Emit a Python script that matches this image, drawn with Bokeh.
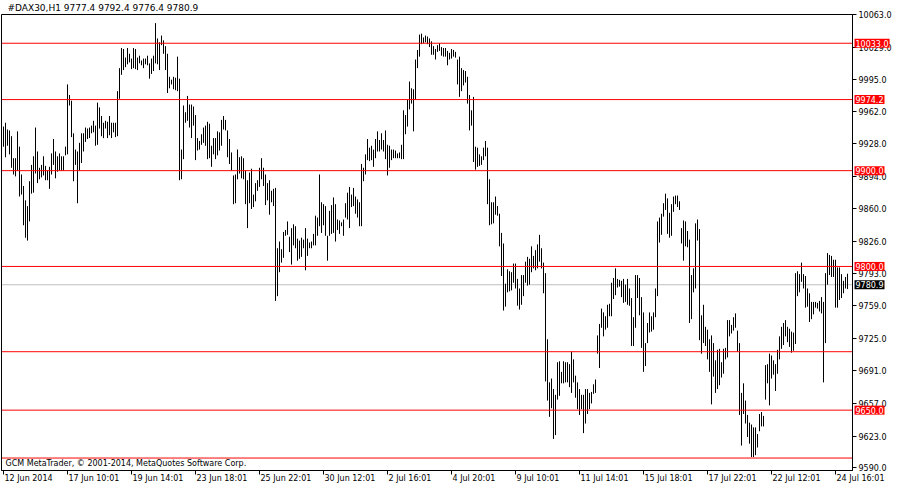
from bokeh.plotting import figure
from bokeh.models import (ColumnDataSource, Label, FixedTicker, PrintfTickFormatter,
                          Range1d, BoxAnnotation)
from bokeh.embed import file_html
from bokeh.resources import INLINE

# ---- data (hourly bars, high / low) ----
HIGH = [
    9946, 9950, 9943, 9942, 9936, 9913, 9913, 9941, 9925, 9896,
    9884, 9869, 9863, 9889, 9906, 9915, 9945, 9920, 9903, 9906,
    9915, 9905, 9900, 9904, 9918, 9933, 9920, 9915, 9918, 9915,
    9915, 9925, 9990, 9979, 9973, 9939, 9922, 9920, 9929, 9939,
    9939, 9945, 9944, 9945, 9947, 9952, 9947, 9971, 9966, 9957,
    9950, 9952, 9951, 9957, 9950, 9950, 9950, 9983, 10007, 10028,
    10027, 10018, 10028, 10022, 10017, 10028, 10027, 10018, 10020, 10015,
    10017, 10017, 10020, 10012, 10017, 10020, 10054, 10038, 10034, 10041,
    10036, 10030, 10022, 9998, 9995, 9998, 9997, 10019, 9996, 9922,
    9968, 9961, 9978, 9969, 9969, 9967, 9958, 9934, 9931, 9938,
    9945, 9947, 9951, 9949, 9926, 9934, 9934, 9941, 9940, 9953,
    9957, 9953, 9942, 9933, 9919, 9895, 9896, 9922, 9914, 9915,
    9913, 9900, 9890, 9898, 9902, 9875, 9887, 9890, 9903, 9913,
    9903, 9896, 9887, 9890, 9879, 9881, 9882, 9819, 9826, 9818,
    9836, 9838, 9847, 9831, 9840, 9844, 9842, 9829, 9827, 9830,
    9828, 9840, 9829, 9825, 9826, 9834, 9853, 9851, 9896, 9867,
    9865, 9863, 9832, 9858, 9864, 9872, 9865, 9849, 9848, 9846,
    9849, 9866, 9877, 9883, 9875, 9882, 9873, 9870, 9867, 9907,
    9903, 9917, 9933, 9924, 9926, 9922, 9933, 9941, 9932, 9939,
    9932, 9942, 9927, 9926, 9922, 9922, 9921, 9918, 9919, 9927,
    9963, 9958, 9974, 9993, 9986, 9985, 10016, 10026, 10042, 10043,
    10039, 10041, 10040, 10038, 10035, 10030, 10027, 10031, 10033, 10029,
    10028, 10028, 10025, 10023, 10027, 10026, 10024, 10016, 10019, 10007,
    10005, 10004, 9998, 9979, 9963, 9977, 9925, 9924, 9917, 9915,
    9924, 9931, 9924, 9891, 9867, 9867, 9873, 9863, 9855, 9835,
    9824, 9782, 9797, 9795, 9794, 9803, 9803, 9787, 9777, 9791,
    9791, 9805, 9810, 9808, 9821, 9811, 9817, 9823, 9833, 9819,
    9804, 9793, 9724, 9679, 9683, 9672, 9666, 9700, 9701, 9690,
    9701, 9700, 9700, 9698, 9711, 9703, 9686, 9679, 9672, 9666,
    9666, 9672, 9672, 9668, 9669, 9677, 9682, 9728, 9740, 9756,
    9752, 9748, 9760, 9761, 9783, 9788, 9798, 9787, 9786, 9785,
    9787, 9781, 9787, 9777, 9767, 9747, 9791, 9791, 9788, 9768,
    9752, 9720, 9741, 9752, 9748, 9752, 9777, 9847, 9851, 9855,
    9866, 9876, 9871, 9856, 9865, 9873, 9874, 9874, 9868, 9840,
    9848, 9847, 9837, 9828, 9791, 9798, 9845, 9849, 9839, 9749,
    9760, 9737, 9734, 9724, 9728, 9720, 9702, 9713, 9714, 9700,
    9714, 9715, 9744, 9744, 9739, 9747, 9751, 9733, 9720, 9668,
    9678, 9660, 9645, 9637, 9635, 9632, 9632, 9625, 9646, 9648,
    9644, 9697, 9698, 9709, 9707, 9702, 9698, 9713, 9727, 9737,
    9741, 9744, 9737, 9735, 9732, 9731, 9793, 9795, 9792, 9804,
    9792, 9790, 9777, 9772, 9763, 9763, 9763, 9762, 9764, 9768,
    9763, 9793, 9814, 9812, 9811, 9807, 9807, 9799, 9799, 9792,
    9785, 9789, 9792.4,
]
LOW = [
    9925, 9914, 9926, 9917, 9903, 9896, 9894, 9900, 9873, 9875,
    9843, 9830, 9827, 9847, 9876, 9877, 9897, 9887, 9891, 9893,
    9895, 9890, 9890, 9881, 9896, 9906, 9892, 9899, 9900, 9900,
    9900, 9916, 9917, 9968, 9935, 9889, 9906, 9866, 9900, 9908,
    9920, 9930, 9933, 9934, 9939, 9940, 9926, 9927, 9944, 9936,
    9934, 9944, 9934, 9937, 9934, 9940, 9935, 9936, 9975, 10000,
    10005, 10008, 10011, 10013, 10006, 10007, 10006, 10005, 10012, 10010,
    10007, 10011, 10010, 9996, 10001, 10004, 10012, 10011, 10005, 10031,
    10022, 10005, 9981, 9986, 9990, 9985, 9984, 9983, 9890, 9891,
    9912, 9950, 9952, 9945, 9934, 9947, 9911, 9921, 9922, 9927,
    9929, 9926, 9912, 9913, 9904, 9917, 9912, 9916, 9921, 9926,
    9943, 9942, 9914, 9907, 9900, 9865, 9866, 9891, 9897, 9892,
    9891, 9865, 9840, 9866, 9860, 9862, 9868, 9879, 9883, 9891,
    9884, 9864, 9869, 9854, 9867, 9863, 9764, 9769, 9794, 9804,
    9809, 9832, 9833, 9815, 9802, 9822, 9819, 9806, 9808, 9810,
    9819, 9796, 9811, 9819, 9819, 9822, 9822, 9832, 9842, 9835,
    9843, 9832, 9806, 9832, 9834, 9835, 9826, 9838, 9834, 9842,
    9832, 9851, 9849, 9840, 9862, 9863, 9855, 9851, 9842, 9842,
    9889, 9896, 9911, 9910, 9911, 9904, 9913, 9920, 9920, 9922,
    9920, 9912, 9895, 9903, 9911, 9913, 9913, 9913, 9913, 9912,
    9912, 9938, 9946, 9964, 9970, 9941, 9974, 10007, 10019, 10032,
    10033, 10034, 10032, 10029, 10021, 10021, 10016, 10024, 10025, 10020,
    10019, 10019, 10010, 10016, 10017, 10019, 10018, 9990, 9977, 9983,
    9989, 9992, 9970, 9942, 9947, 9909, 9901, 9904, 9905, 9906,
    9911, 9915, 9865, 9843, 9844, 9845, 9854, 9853, 9821, 9790,
    9754, 9758, 9773, 9774, 9775, 9783, 9777, 9759, 9755, 9760,
    9769, 9783, 9780, 9781, 9794, 9798, 9796, 9798, 9805, 9798,
    9772, 9680, 9660, 9643, 9652, 9620, 9624, 9661, 9665, 9678,
    9678, 9679, 9679, 9674, 9668, 9679, 9663, 9651, 9645, 9651,
    9626, 9636, 9646, 9651, 9657, 9667, 9668, 9709, 9694, 9736,
    9727, 9734, 9736, 9748, 9748, 9766, 9770, 9778, 9779, 9768,
    9762, 9763, 9760, 9759, 9717, 9717, 9736, 9767, 9749, 9715,
    9690, 9696, 9720, 9731, 9732, 9734, 9747, 9769, 9825, 9833,
    9852, 9859, 9834, 9830, 9832, 9857, 9865, 9862, 9859, 9824,
    9806, 9821, 9820, 9741, 9745, 9773, 9777, 9827, 9723, 9709,
    9720, 9717, 9703, 9690, 9656, 9685, 9668, 9672, 9676, 9684,
    9688, 9703, 9705, 9727, 9730, 9733, 9736, 9711, 9645, 9613,
    9646, 9636, 9622, 9615, 9601, 9601, 9603, 9611, 9628, 9633,
    9633, 9661, 9678, 9655, 9683, 9687, 9670, 9688, 9703, 9714,
    9718, 9727, 9721, 9716, 9710, 9712, 9719, 9769, 9773, 9784,
    9777, 9757, 9758, 9742, 9745, 9750, 9757, 9756, 9753, 9751,
    9679, 9720, 9781, 9791, 9789, 9789, 9757, 9757, 9765, 9767,
    9772, 9777, 9776.4,
]

DATE_TICK_BARS = [0, 32, 64, 96, 128, 160, 192, 224, 256, 288, 320, 352, 384, 416]
DATE_LABELS = ["12 Jun 2014", "17 Jun 10:01", "19 Jun 14:01", "23 Jun 18:01",
               "25 Jun 22:01", "30 Jun 12:01", "2 Jul 16:01", "4 Jul 20:01",
               "9 Jul 10:01", "11 Jul 14:01", "15 Jul 18:01", "17 Jul 22:01",
               "22 Jul 12:01", "24 Jul 16:01"]
PRICE_TICKS = [9590.0, 9623.0, 9657.0, 9691.0, 9725.0, 9759.0, 9793.0, 9826.0,
               9860.0, 9894.0, 9928.0, 9962.0, 9995.0, 10029.0, 10063.0]
LEVELS_LABELED = [10033.0, 9974.2, 9900.0, 9800.0, 9650.0]
LEVELS_PLAIN = [9711.0, 9600.0]
BID = 9780.9
TITLE = "#DAX30,H1  9777.4 9792.4 9776.4 9780.9"
COPYRIGHT = "GCM MetaTrader, \u00a9 2001-2014, MetaQuotes Software Corp."

FONT = "DejaVu Sans"

# ---- layout constants ----
W, H = 892, 484
X0 = -1.5                            # 2 px per bar
X1 = X0 + W / 2.0
BOX_L, BOX_R = -1.0, 424.5           # chart box, bar-index units
BOX_B, BOX_T = 9587.0, 10063.0       # chart box, price units
BOX_TOP_PX, BOX_BOT_PX = 14.0, 470.0
SY = (BOX_BOT_PX - BOX_TOP_PX) / (BOX_T - BOX_B)
Y1 = BOX_T + BOX_TOP_PX / SY
Y0 = BOX_B - (H - BOX_BOT_PX) / SY

n = min(len(HIGH), len(LOW))
src = ColumnDataSource(dict(x=list(range(n)), hi=HIGH[:n], lo=LOW[:n]))

p = figure(width=W, height=H, output_backend="svg", toolbar_location=None,
           x_range=Range1d(X0, X1), y_range=Range1d(Y0, Y1),
           y_axis_location="right", min_border=0,
           min_border_left=0, min_border_right=0, min_border_top=0,
           min_border_bottom=0)
p.background_fill_color = "white"
p.border_fill_color = "white"
p.grid.visible = False
p.outline_line_color = None

# grey bid line under the bars
p.segment(x0=[BOX_L], y0=[BID], x1=[BOX_R], y1=[BID], line_color="#C0C0C0",
          line_width=1, level="underlay")

# bars
p.segment(x0="x", y0="lo", x1="x", y1="hi", source=src, line_color="black",
          line_width=1)

# horizontal levels
lv_all = LEVELS_LABELED + LEVELS_PLAIN
p.segment(x0=[BOX_L] * len(lv_all), y0=lv_all, x1=[BOX_R] * len(lv_all), y1=lv_all,
          line_color="#FF0000", line_width=1)

# chart box
p.add_layout(BoxAnnotation(left=BOX_L, right=BOX_R, bottom=BOX_B, top=BOX_T,
                           fill_alpha=0, line_color="black", line_width=1,
                           line_alpha=1))

# right price axis, fixed at the box edge
ya = p.yaxis[0]
ya.fixed_location = BOX_R
ya.bounds = (BOX_B, BOX_T)
ya.ticker = FixedTicker(ticks=PRICE_TICKS)
ya.formatter = PrintfTickFormatter(format="%.1f")
ya.major_label_text_font = FONT
ya.major_label_text_font_size = "8px"
ya.major_label_text_color = "black"
ya.major_tick_out = 4
ya.major_tick_in = 0
ya.minor_tick_out = 0
ya.minor_tick_in = 0
ya.major_label_standoff = 2
ya.axis_line_color = "black"
ya.major_tick_line_color = "black"

# bottom time axis: ticks only (labels left aligned as annotations)
xa = p.xaxis[0]
xa.fixed_location = BOX_B
xa.bounds = (BOX_L, BOX_R)
xa.ticker = FixedTicker(ticks=[], minor_ticks=DATE_TICK_BARS)
xa.minor_tick_out = 4
xa.minor_tick_in = 0
xa.minor_tick_line_color = "black"
xa.major_tick_out = 0
xa.major_tick_in = 0
xa.axis_line_color = "black"

for b, txt in zip(DATE_TICK_BARS, DATE_LABELS):
    p.add_layout(Label(x=b, y=BOX_B, text=txt, x_offset=1, y_offset=-3,
                       text_align="left", text_baseline="top",
                       text_font=FONT, text_font_size="8px", text_color="black"))

# price flags on the axis
for lv in LEVELS_LABELED:
    p.add_layout(Label(x=BOX_R, y=lv, text="%.1f" % lv, x_offset=2,
                       text_align="left", text_baseline="middle",
                       text_font=FONT, text_font_size="8px", text_color="white",
                       background_fill_color="#FF0000", padding=1))
p.add_layout(Label(x=BOX_R, y=BID, text="%.1f" % BID, x_offset=2,
                   text_align="left", text_baseline="middle",
                   text_font=FONT, text_font_size="8px", text_color="white",
                   background_fill_color="black", padding=1))

# chart caption above the box, copyright at the box bottom
p.add_layout(Label(x=BOX_L, y=BOX_T, text=TITLE, x_offset=6, y_offset=2,
                   text_align="left", text_baseline="bottom",
                   text_font=FONT, text_font_size="9px", text_color="black"))
p.add_layout(Label(x=BOX_L, y=BOX_B, text=COPYRIGHT, x_offset=4, y_offset=3,
                   text_align="left", text_baseline="bottom",
                   text_font=FONT, text_font_size="8px", text_color="black"))

open("out.html", "w", encoding="utf-8").write(file_html(p, INLINE))
